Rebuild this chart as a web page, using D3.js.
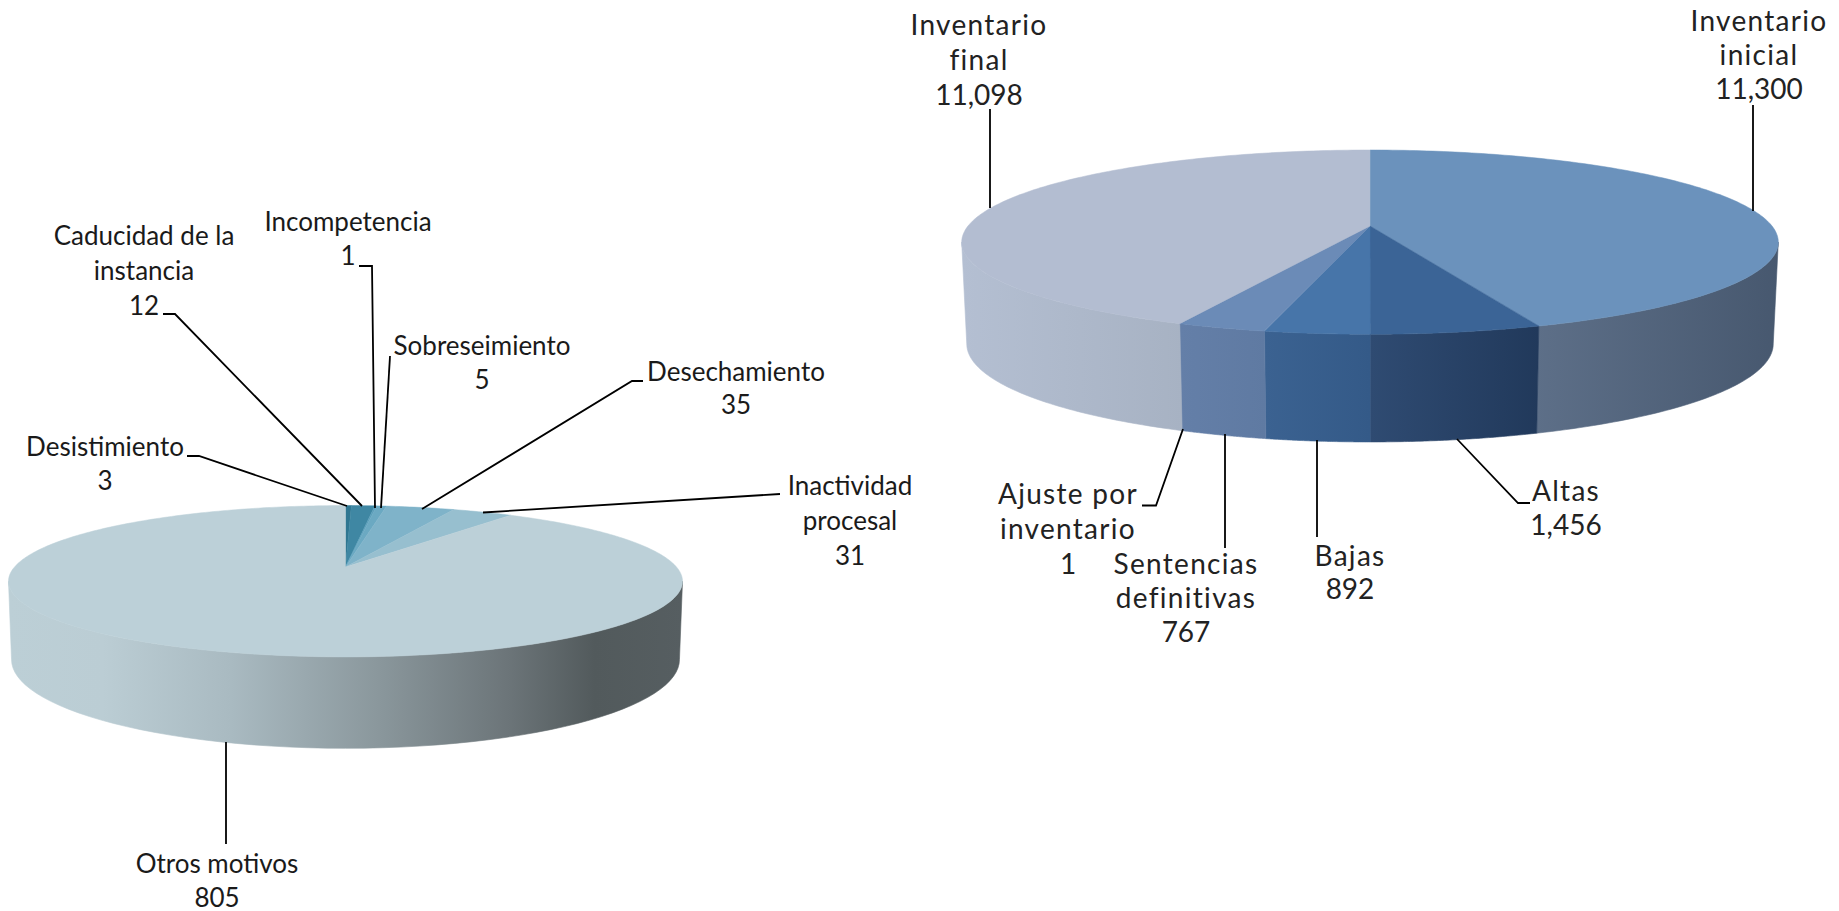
<!DOCTYPE html>
<html><head><meta charset="utf-8">
<script src="https://cdn.jsdelivr.net/npm/d3@7/dist/d3.min.js"></script>
<style>html,body{margin:0;padding:0;background:#fff;overflow:hidden}svg{display:block}</style>
</head><body><svg id="c" width="1839" height="911"></svg>
<script>
// ---- data ----
const leftCategories = [["Desistimiento"],["Caducidad de la","instancia"],["Incompetencia"],["Sobreseimiento"],["Desechamiento"],["Inactividad","procesal"],["Otros motivos"]];
const leftValues = [3,12,1,5,35,31,805];
const rightCategories = [["Inventario","inicial"],["Altas"],["Bajas"],["Sentencias","definitivas"],["Ajuste por","inventario"],["Inventario","final"]];
const rightValues = [11300,1456,892,767,1,11098];
// ---- styles and layout ----
const leftTop = ["#2f7691","#3f87a3","#5b9fba","#6ba9c2","#7fb3c9","#97bfcf","#bcd0d8"];
const rightTop = ["#6b92bc","#3b6496","#4775a9","#6b8bb7","#6b8bb7","#b3bdd1"];
const leftSide = [null,null,null,null,null,null,[["#bccfd6",0],["#bbcdd4",.14],["#a9bac1",.33],["#8a979c",.55],["#6c7579",.74],["#525a5c",.87],["#565e61",1]]];
const rightSide = [[["#5d6f88",0],["#47586f",1]],[["#2f4b72",0],["#21395b",1]],[["#3b6291",0],["#345a88",1]],[["#647fa8",0],["#5f7aa2",1]],[["#647fa8",0],["#647fa8",1]],[["#b4bfd2",0],["#a7b2c3",1]]];
const leftGeom = {ax:345.5,ay:567,k:.188,A:73,W:331,bw:328,by:643,bA:85.5};
const rightGeom = {ax:1370,ay:226,k:.175,A:89.3,W:402,bw:397,by:326.8,bA:95};
const leftLabels = [
 {x:105,y:445.5,lh:34},{x:144,y:234.5,lh:35},{x:348,y:220.5,lh:34},{x:482,y:344.5,lh:34},{x:736,y:370.5,lh:33},{x:850,y:484.5,lh:35},{x:217,y:862.5,lh:34}];
const leftLeaders = [
 [[187,456],[199,456],[347,506]],[[163,314],[175,314],[362,506]],[[359,266],[372,266],[375,508]],
 [[390,356],[381,508]],[[643,381],[632,381],[422,509]],[[780,494],[483,512.5]],[[226,742],[226,844]]];
const rightLabels = [
 {x:1759,y:20,lh:34},{x:1566,y:490,lh:34},{x:1350,y:555,lh:33},{x:1186,y:563,lh:34},{x:1068,y:493,lh:35},{x:979,y:24,lh:35}];
const rightLeaders = [
 [[1753,105],[1753,211]],[[1457,439],[1518,503],[1530,503]],[[1317,440],[1317,537]],
 [[1225,434],[1225,548]],[[1183,429],[1156,505.5],[1142,505.5]],[[990,109],[990,208]]];

const svg = d3.select("#c");
const defs = svg.append("defs");
const fmt = d3.format(",");
const line = d3.line();
const polyClosed = d3.line().curve(d3.curveLinearClosed);

function drawPie(id,values,topColors,sideStops,g){
  const top = t => {const u=Math.sin(t),v=Math.cos(t),d=1+g.k*v;return [g.ax+g.W*u/d,g.ay-g.A*v/d];};
  const bot = t => {const u=Math.sin(t),v=Math.cos(t),d=1+g.k*v;return [g.ax+g.bw*u/d,g.by-g.bA*v/d];};
  const arcs = d3.pie().sort(null).value(d=>d)(values);
  const vis0 = Math.acos(-g.k), vis1 = 2*Math.PI-vis0;
  const grp = svg.append("g");
  arcs.forEach((a,i)=>{
    const s=Math.max(a.startAngle,vis0), e=Math.min(a.endAngle,vis1);
    if(e<=s||!sideStops[i]) return;
    const ts=d3.range(0,61).map(n=>s+(e-s)*n/60);
    const upper=ts.map(top), lower=ts.map(bot).reverse();
    const xs=upper.concat(lower).map(p=>p[0]);
    const gid=`${id}-side-${i}`;
    const lg=defs.append("linearGradient").attr("id",gid).attr("gradientUnits","userSpaceOnUse")
      .attr("x1",d3.min(xs)).attr("x2",d3.max(xs)).attr("y1",0).attr("y2",0);
    sideStops[i].forEach(st=>lg.append("stop").attr("offset",st[1]).attr("stop-color",st[0]));
    grp.append("path").attr("d",polyClosed(upper.concat(lower))).attr("fill",`url(#${gid})`).attr("stroke",`url(#${gid})`).attr("stroke-width",.6);
  });
  arcs.forEach((a,i)=>{
    const n=Math.max(2,Math.ceil((a.endAngle-a.startAngle)*60));
    const pts=[[g.ax,g.ay]].concat(d3.range(0,n+1).map(j=>top(a.startAngle+(a.endAngle-a.startAngle)*j/n)));
    grp.append("path").attr("d",polyClosed(pts)).attr("fill",topColors[i]).attr("stroke",topColors[i]).attr("stroke-width",.5);
  });
}

function drawLabels(cats,vals,layout,leaders,font){
  const lg=svg.append("g").attr("fill","none").attr("stroke","#000").attr("stroke-width",1.8);
  leaders.forEach(p=>lg.append("path").attr("d",line(p)));
  const tg=svg.append("g").attr("font-family",font.family).attr("font-size",font.size).attr("font-weight",font.weight)
    .attr("fill",font.fill).attr("text-anchor","middle");
  cats.forEach((c,i)=>{
    const L=layout[i];
    c.concat([fmt(vals[i])]).forEach((s,j)=>{
      tg.append("text").attr("x",L.x).attr("y",L.y+j*L.lh).attr("dominant-baseline","central")
        .attr("letter-spacing",j===c.length?font.valueLs:font.ls).text(s);
    });
  });
}

drawPie("l",leftValues,leftTop,leftSide,leftGeom);
drawPie("r",rightValues,rightTop,rightSide,rightGeom);
drawLabels(leftCategories,leftValues,leftLabels,leftLeaders,{family:"Lato",size:26,weight:400,ls:0,valueLs:0,fill:"#1a1a1a"});
drawLabels(rightCategories,rightValues,rightLabels,rightLeaders,{family:"Lato",size:28,weight:400,ls:1.3,valueLs:0,fill:"#222"});
</script></body></html>
